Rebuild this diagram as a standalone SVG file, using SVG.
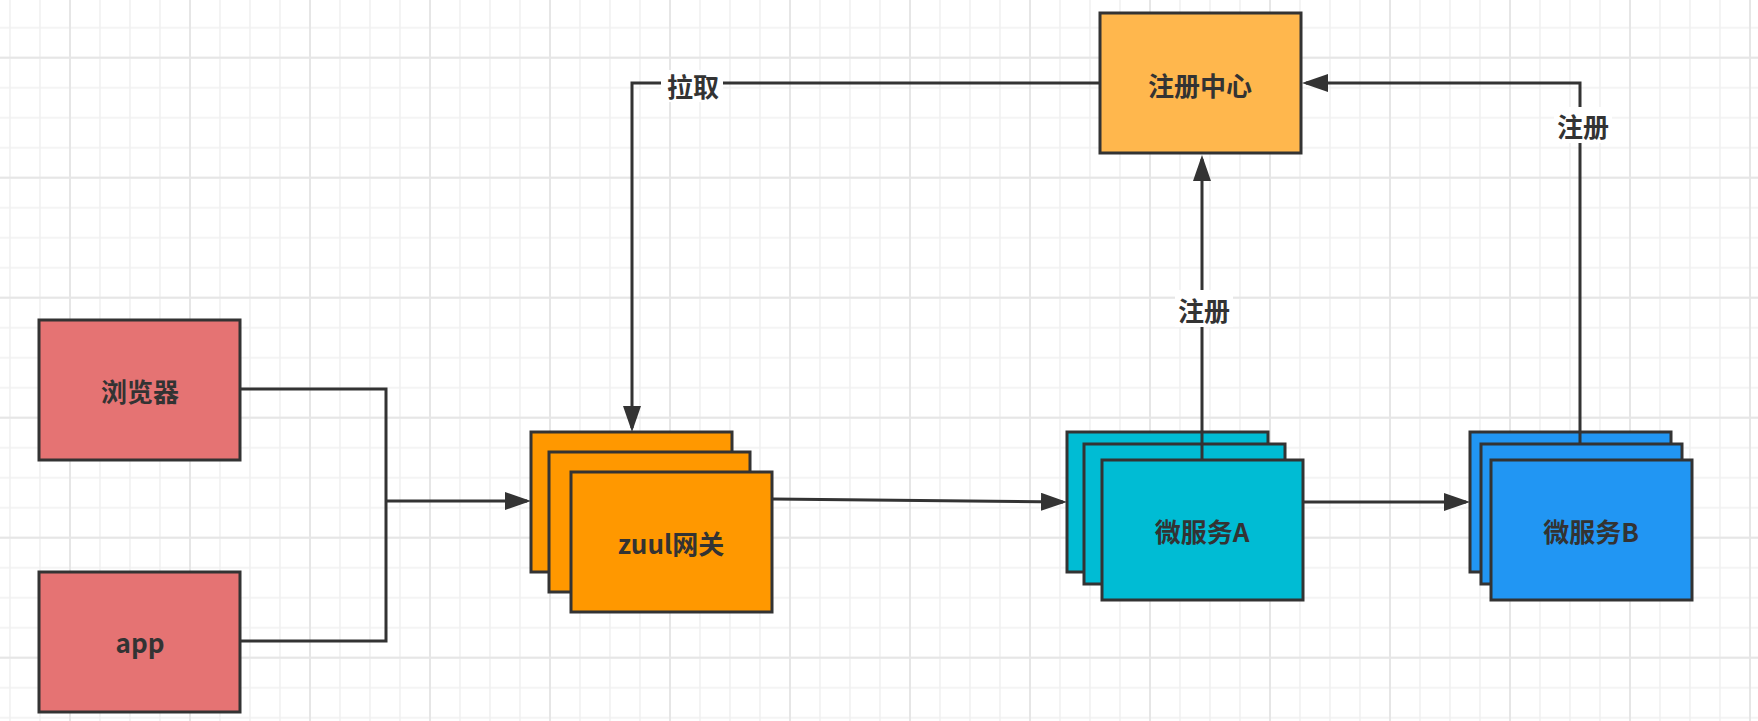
<svg xmlns="http://www.w3.org/2000/svg" width="1758" height="721" viewBox="0 0 1758 721">
<style>
.box{stroke:#333333;stroke-width:3}
.red{fill:#E57373}
.orange{fill:#FF9800}
.amber{fill:#FFB74D}
.cyan{fill:#00BCD4}
.blue{fill:#2196F3}
.t{font-family:"Noto Sans CJK SC","Noto Sans",sans-serif;font-weight:bold;font-size:26px;fill:#333333;text-anchor:middle;dominant-baseline:central}
.c{fill:none;stroke:#333333;stroke-width:3}
.lbg{fill:#ffffff}
</style>
<defs>
<pattern id="minor" patternUnits="userSpaceOnUse" x="-5" y="12.7" width="30" height="30">
<path d="M15,0 V30 M0,15 H30" stroke="#f1f1f1" stroke-width="1.6" fill="none"/>
</pattern>
<pattern id="major" patternUnits="userSpaceOnUse" x="10" y="-2.3" width="120" height="120">
<path d="M60,0 V120 M0,60 H120" stroke="#e6e6e6" stroke-width="2" fill="none"/>
</pattern>
<marker id="arr" viewBox="0 0 26 18" refX="22" refY="9" markerWidth="26" markerHeight="18" markerUnits="userSpaceOnUse" orient="auto">
<path d="M0,0 L26,9 L0,18 z" fill="#333333"/>
</marker>
</defs>
<rect width="1758" height="721" fill="#ffffff"/>
<rect width="1758" height="721" fill="url(#minor)"/>
<rect width="1758" height="721" fill="url(#major)"/>

<g id="browser">
<rect class="box red" x="39" y="320" width="201" height="140"/>
<text class="t" x="140" y="390">浏览器</text>
</g>
<g id="app">
<rect class="box red" x="39" y="572" width="201" height="140"/>
<text class="t" x="140" y="641">app</text>
</g>
<g id="gateway">
<rect class="box orange" x="531" y="432" width="201" height="140"/>
<rect class="box orange" x="549" y="452" width="201" height="140"/>
<rect class="box orange" x="571" y="472" width="201" height="140"/>
<text class="t" x="671" y="542">zuul网关</text>
</g>
<g id="registry">
<rect class="box amber" x="1100" y="13" width="201" height="140"/>
<text class="t" x="1200" y="84">注册中心</text>
</g>
<g id="serviceA">
<rect class="box cyan" x="1067" y="432" width="201" height="140"/>
<rect class="box cyan" x="1084" y="444" width="201" height="140"/>
<rect class="box cyan" x="1102" y="460" width="201" height="140"/>
<text class="t" x="1202" y="530">微服务A</text>
</g>
<g id="serviceB">
<rect class="box blue" x="1470" y="432" width="201" height="140"/>
<rect class="box blue" x="1481" y="444" width="201" height="140"/>
<rect class="box blue" x="1491" y="460" width="201" height="140"/>
<text class="t" x="1591" y="530">微服务B</text>
</g>

<g id="connectors">
<path class="c" d="M240,389 H386 V641 H240"/>
<path class="c" d="M386,501 H527" marker-end="url(#arr)"/>
<path class="c" d="M772,499 L1063,502" marker-end="url(#arr)"/>
<path class="c" d="M1303,502 H1466" marker-end="url(#arr)"/>
<path class="c" d="M1202,460 V159" marker-end="url(#arr)"/>
<path class="c" d="M1580,443 V83 H1306" marker-end="url(#arr)"/>
<path class="c" d="M1099,83 H632 V428" marker-end="url(#arr)"/>
<rect class="lbg" x="661" y="70" width="62" height="32"/>
<text class="t" x="693" y="85">拉取</text>
<rect class="lbg" x="1175" y="290" width="58" height="37"/>
<text class="t" x="1204" y="309">注册</text>
<rect class="lbg" x="1554" y="107" width="58" height="36"/>
<text class="t" x="1583" y="125">注册</text>
</g>
</svg>
